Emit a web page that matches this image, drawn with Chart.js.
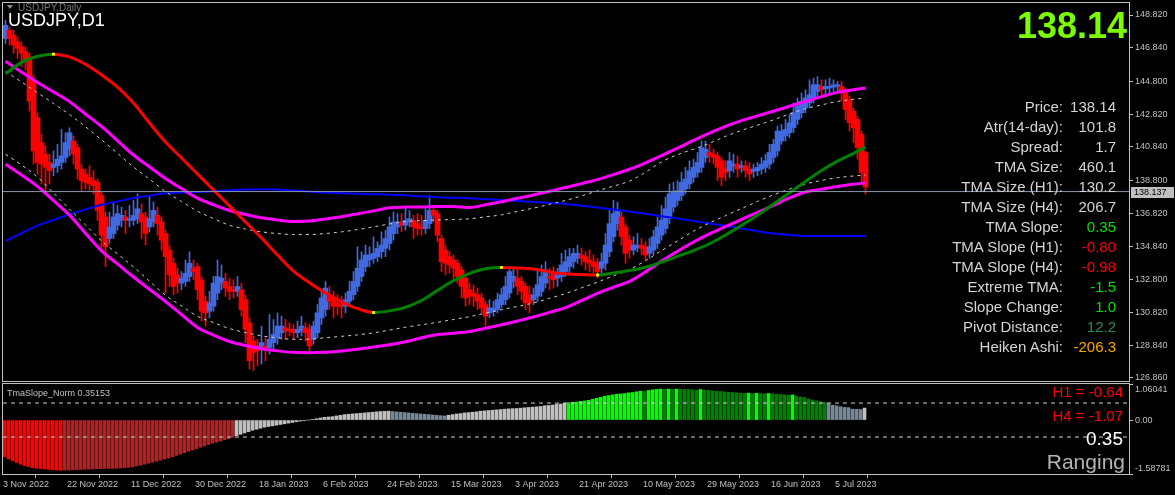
<!DOCTYPE html>
<html>
<head>
<meta charset="utf-8">
<script src="https://cdn.jsdelivr.net/npm/chart.js@4/dist/chart.umd.min.js"></script>
<style>
html,body{margin:0;padding:0;background:#000;width:1175px;height:495px;overflow:hidden;}
canvas{position:absolute;left:0;}
#main{top:0;}
#sub{top:382px;}
.t{position:absolute;font-family:"Liberation Sans",Arial,sans-serif;line-height:1;white-space:nowrap;}
</style>
</head>
<body>
<canvas id="main" width="1175" height="382"></canvas>
<canvas id="sub" width="1175" height="113"></canvas>
<div id="texts"></div>
<script>
// ---------------- DATA ----------------
const symbolTitle = 'USDJPY,D1';
const indicatorTitle = 'USDJPY,Daily';
const bigPrice = '138.14';
const currentPrice = 138.137;

const dateTickIdx = [0,16,32,48,64,80,96,112,128,144,160,176,192,208];
const dateLabels = ['3 Nov 2022','22 Nov 2022','11 Dec 2022','30 Dec 2022','18 Jan 2023','6 Feb 2023','24 Feb 2023','15 Mar 2023','3 Apr 2023','21 Apr 2023','10 May 2023','29 May 2023','16 Jun 2023','5 Jul 2023'];

const priceTicks = [148.820,146.840,144.800,142.820,140.840,138.800,136.820,134.840,132.800,130.820,128.840,126.860];
const slopeTicks = [1.06041,0.5,0,-0.5,-1.58781];
const slopeTickLabels = ['1.06041','0.5','0.00','-0.5','-1.58781'];
const slopeLevels = [0.5,-0.5];

// Heiken Ashi style daily bars (one per bar index)
const opens = [
147.4,147.9,147.6,147.2,146.9,146.6,146.3,144.9,142.6,141.1,
140.4,139.9,139.6,139.7,139.9,140.2,140.7,141.2,140.8,139.5,
139.2,139.0,138.8,138.7,137.9,136.6,135.3,135.6,136.1,136.4,
136.6,136.4,136.4,136.5,136.8,136.6,136.0,136.3,136.7,136.3,
135.6,134.6,133.8,133.1,132.6,132.7,133.0,133.5,133.6,132.8,
131.5,130.9,131.2,132.0,132.6,132.7,132.4,132.2,132.1,132.2,
131.6,130.2,129.1,128.8,128.6,128.8,128.7,129.0,129.3,129.6,
129.9,129.8,129.8,129.6,129.7,129.9,129.8,129.2,129.6,130.5,
131.0,131.9,131.7,131.4,131.3,131.2,131.5,131.9,132.4,133.0,
133.6,134.0,134.1,134.2,134.5,134.7,135.0,135.6,136.0,136.3,
136.1,136.3,136.4,136.2,136.0,135.9,136.2,137.0,136.8,135.3,
134.6,134.2,134.0,133.8,133.4,132.9,132.2,132.0,131.9,131.7,
131.3,130.8,130.9,131.0,131.3,131.6,132.0,132.7,132.9,132.7,
132.4,131.9,131.6,131.8,132.1,132.6,133.0,133.2,132.9,133.0,
133.3,133.6,133.9,134.1,134.3,134.2,134.0,133.9,133.8,133.5,
133.8,134.5,135.4,136.2,136.6,136.0,135.2,134.6,134.75,134.9,
134.8,134.4,134.6,135.0,135.5,135.9,136.5,137.2,137.6,137.9,
138.3,138.6,139.0,139.3,139.6,140.2,140.5,140.4,140.3,140.0,
139.5,139.4,139.7,139.8,139.6,139.7,139.5,139.35,139.4,139.5,
139.6,139.8,140.2,140.6,141.2,141.5,141.7,142.0,142.5,142.9,
143.2,143.5,143.8,144.2,144.5,144.35,144.4,144.45,144.5,144.5,
144.3,143.7,143.0,142.5,141.6,140.5];
const closes = [
148.2,147.4,147.0,146.8,146.5,146.1,143.6,140.6,139.9,139.8,
139.6,139.4,139.8,140.1,140.3,141.1,141.7,140.4,139.5,138.8,
138.7,138.6,138.5,137.0,135.5,134.8,136.0,136.6,136.8,136.7,
136.4,136.5,136.7,137.1,136.3,135.6,136.5,137.0,136.2,135.2,
134.2,133.1,132.4,132.6,132.9,133.2,133.8,133.3,132.2,130.9,
130.8,131.4,132.6,133.0,132.9,132.3,132.1,132.1,132.4,131.0,
129.8,127.9,128.4,128.5,129.0,128.6,129.2,129.5,130.0,130.0,
129.7,129.7,129.6,129.8,130.0,129.6,128.8,130.0,130.8,131.7,
132.3,131.5,131.2,131.2,131.2,131.6,132.1,132.7,133.5,134.0,
134.3,134.3,134.4,134.7,134.9,135.3,136.0,136.3,136.3,136.1,
136.4,136.5,136.0,135.9,135.9,136.4,137.0,136.7,135.5,133.9,
133.8,133.7,133.5,133.0,132.4,131.7,131.8,131.8,131.5,131.1,
130.6,131.1,131.1,131.6,131.9,132.4,133.3,133.0,132.4,132.1,
131.4,131.4,131.9,132.5,133.0,133.4,132.9,132.8,133.1,133.7,
133.9,134.2,134.4,134.4,134.1,133.9,133.8,133.6,133.3,133.9,
134.9,136.2,136.8,137.0,135.4,134.4,134.6,134.9,134.9,134.7,
134.3,134.8,135.4,136.0,136.4,137.1,138.0,138.1,138.2,138.7,
138.9,139.4,139.6,139.9,140.8,140.7,140.3,140.2,139.6,139.0,
139.3,140.0,139.8,139.5,139.7,139.4,139.2,139.5,139.6,139.8,
140.0,140.5,141.0,141.8,141.8,141.9,142.3,142.9,143.3,143.6,
143.8,144.0,144.6,144.6,144.3,144.5,144.5,144.6,144.6,144.2,
143.1,142.3,142.0,140.8,139.3,138.4];
const highs = [
148.5,148.1,147.9,147.5,147.2,146.9,146.5,145.2,142.9,141.6,
140.9,140.4,140.6,141.0,141.9,141.7,142.0,141.5,141.0,139.8,
139.5,139.7,139.4,138.9,138.1,136.9,136.9,137.5,137.3,137.2,
137.0,137.3,137.6,138.0,137.4,136.9,137.9,137.5,137.2,136.6,
135.8,134.9,134.1,133.5,133.3,134.0,134.5,134.0,133.8,133.0,
131.8,132.1,133.0,134.0,133.7,133.2,132.9,132.8,133.0,132.6,
131.9,130.5,129.4,129.2,130.0,129.3,130.7,130.4,130.8,130.6,
130.4,130.2,130.1,130.3,130.6,130.2,130.1,130.3,131.3,132.2,
132.7,132.4,132.1,131.9,131.8,132.0,132.7,133.3,134.8,134.5,
134.9,134.8,135.4,135.1,135.7,135.8,136.6,136.9,136.8,136.8,
137.2,137.0,136.7,136.8,136.7,137.1,137.9,137.3,137.0,135.5,
134.9,134.5,134.3,134.0,133.6,133.1,132.6,132.5,132.3,132.0,
131.5,131.6,131.5,132.0,132.3,133.0,133.6,133.5,133.5,133.0,
132.6,132.4,132.3,133.4,133.7,133.9,133.5,133.6,133.5,134.4,
134.6,134.7,134.7,134.9,134.7,134.5,134.6,134.3,134.1,134.4,
135.6,137.0,137.6,137.5,136.9,136.2,135.5,135.4,135.6,135.3,
135.1,135.3,135.8,136.6,137.3,137.8,138.6,138.7,138.8,139.3,
139.6,140.0,140.1,140.5,141.2,141.2,141.0,140.7,140.5,140.2,
140.0,140.5,140.4,140.3,140.0,140.0,139.9,139.8,139.9,140.2,
140.4,141.0,141.3,142.1,142.2,142.5,142.8,143.5,143.8,144.1,
144.3,144.9,145.0,145.1,144.9,144.9,145.0,144.9,144.8,144.8,
144.4,143.9,143.2,142.7,141.8,140.6];
const lows = [
147.1,147.0,146.5,146.2,145.7,145.5,143.0,139.8,139.2,138.6,
138.0,138.6,139.1,139.3,139.5,139.9,140.3,139.8,138.9,138.2,
138.3,138.2,138.0,136.4,134.6,133.6,135.0,135.3,135.8,136.0,
135.6,136.0,136.1,136.2,135.3,134.9,135.7,136.0,135.5,134.6,
132.0,132.4,131.9,132.0,132.2,132.4,132.7,132.8,131.6,130.3,
130.0,130.5,130.9,131.6,132.2,131.8,131.6,131.7,131.8,130.6,
129.0,127.4,127.3,127.6,127.7,127.9,128.3,128.6,128.9,129.2,
129.2,129.4,129.2,129.3,129.4,129.1,128.5,128.9,129.3,130.1,
130.6,131.0,130.5,130.7,130.5,130.8,131.2,131.6,132.1,132.7,
133.3,133.6,133.8,133.9,134.1,134.2,134.6,135.2,135.6,135.7,
135.8,136.0,135.3,135.5,135.5,135.6,135.9,136.3,135.1,133.3,
133.1,133.2,132.9,132.6,131.7,131.2,131.3,131.2,131.0,130.8,
130.0,130.5,130.6,130.8,131.1,131.3,131.7,132.3,131.9,131.6,
131.0,130.8,131.3,131.5,131.8,132.3,132.2,132.3,132.4,132.7,
133.0,133.2,133.5,133.8,133.7,133.4,133.3,133.2,132.9,133.2,
133.4,134.2,135.1,135.8,134.9,133.8,134.1,134.3,134.5,134.3,
134.0,134.1,134.3,134.7,135.2,135.6,136.2,136.9,137.3,137.6,
138.0,138.3,138.7,139.0,139.3,139.9,139.9,139.8,138.8,138.5,
138.8,139.0,139.3,139.0,139.3,139.0,138.8,139.0,139.1,139.2,
139.3,139.5,139.9,140.3,141.0,141.2,141.4,141.7,142.2,142.6,
142.9,143.2,143.5,143.9,144.0,144.0,144.1,144.2,144.2,143.6,
142.5,141.8,141.1,140.1,138.6,138.0];

// indicator lines, sampled at these bar indices
const lineIdx = [0,4,8,12,16,20,24,28,32,36,40,44,48,52,56,60,64,68,72,76,80,84,88,92,96,100,104,108,112,116,120,124,128,132,136,140,144,148,152,156,160,164,168,172,176,180,184,188,192,196,200,204,208,212,215];
const tmaMid = [145.27,145.95,146.32,146.45,146.29,145.84,145.20,144.46,143.50,142.29,141.14,140.17,139.20,138.23,137.27,136.30,135.33,134.30,133.33,132.62,132.00,131.47,131.06,130.82,130.92,131.14,131.55,132.16,132.75,133.19,133.47,133.55,133.52,133.45,133.28,133.16,133.12,133.09,133.21,133.36,133.56,133.87,134.22,134.57,134.98,135.51,136.10,136.71,137.39,138.06,138.75,139.41,139.98,140.45,140.83];
const tmaUpper = [146.02,145.37,144.74,144.17,143.58,142.83,142.08,141.22,140.35,139.64,138.93,138.32,137.74,137.34,136.99,136.75,136.55,136.42,136.33,136.36,136.48,136.62,136.79,136.97,137.16,137.20,137.21,137.24,137.24,137.17,137.34,137.52,137.73,137.93,138.16,138.38,138.62,138.86,139.16,139.49,139.88,140.31,140.76,141.23,141.67,142.08,142.43,142.72,143.00,143.30,143.59,143.88,144.14,144.30,144.40];
const tmaLower = [139.79,139.14,138.45,137.59,136.71,135.62,134.55,133.76,132.97,132.23,131.49,130.70,129.92,129.46,129.07,128.83,128.63,128.50,128.41,128.39,128.42,128.49,128.60,128.73,128.87,129.05,129.29,129.49,129.57,129.67,129.87,130.08,130.31,130.55,130.83,131.12,131.54,131.98,132.35,132.70,133.28,133.93,134.53,135.09,135.58,136.02,136.45,136.88,137.31,137.75,138.11,138.28,138.45,138.58,138.66];
const tmaUpperInner = [145.41,144.77,144.12,143.47,142.80,142.06,141.27,140.45,139.62,138.89,138.14,137.54,136.95,136.51,136.10,135.87,135.70,135.60,135.54,135.54,135.60,135.70,135.84,136.00,136.18,136.32,136.38,136.42,136.45,136.49,136.61,136.73,136.94,137.14,137.37,137.60,137.88,138.18,138.47,138.77,139.31,139.93,140.37,140.70,141.06,141.48,141.84,142.15,142.48,142.83,143.15,143.38,143.59,143.72,143.80];
const tmaLowerInner = [140.39,139.75,139.02,138.05,137.08,136.12,135.16,134.37,133.58,132.72,131.87,131.22,130.60,130.21,129.85,129.61,129.41,129.29,129.20,129.21,129.30,129.38,129.47,129.59,129.76,129.93,130.08,130.23,130.40,130.57,130.78,130.99,131.19,131.40,131.68,131.97,132.31,132.66,133.04,133.42,133.96,134.56,135.15,135.74,136.24,136.68,137.11,137.54,137.94,138.29,138.60,138.81,138.98,139.08,139.14];
const maBlue = [135.15,135.63,136.08,136.42,136.76,137.05,137.34,137.54,137.75,137.89,138.03,138.08,138.11,138.16,138.22,138.26,138.28,138.26,138.20,138.14,138.08,138.04,138.01,137.98,137.95,137.91,137.85,137.80,137.77,137.74,137.68,137.63,137.57,137.51,137.45,137.39,137.28,137.17,137.05,136.93,136.79,136.65,136.51,136.36,136.21,136.07,135.91,135.74,135.60,135.51,135.45,135.45,135.45,135.45,135.45];

// TmaSlope_Norm histogram, one per bar
const slopeNorm = [
-1.08,-1.14,-1.20,-1.25,-1.30,-1.34,-1.37,-1.40,-1.42,-1.43,
-1.44,-1.45,-1.46,-1.47,-1.48,-1.475,-1.47,-1.465,-1.46,-1.455,
-1.45,-1.445,-1.44,-1.435,-1.43,-1.428,-1.425,-1.422,-1.42,-1.41,
-1.40,-1.39,-1.38,-1.35,-1.33,-1.30,-1.27,-1.24,-1.21,-1.18,
-1.15,-1.12,-1.08,-1.04,-1.00,-0.96,-0.92,-0.88,-0.84,-0.80,
-0.76,-0.72,-0.68,-0.65,-0.62,-0.58,-0.55,-0.51,-0.46,-0.42,
-0.38,-0.34,-0.30,-0.27,-0.24,-0.21,-0.19,-0.17,-0.15,-0.13,
-0.11,-0.09,-0.07,-0.05,-0.03,-0.02,0.00,0.02,0.04,0.06,
0.08,0.09,0.10,0.12,0.14,0.16,0.17,0.18,0.19,0.20,
0.21,0.22,0.23,0.24,0.25,0.255,0.26,0.25,0.24,0.23,
0.22,0.21,0.20,0.19,0.18,0.17,0.16,0.15,0.14,0.13,
0.12,0.14,0.16,0.18,0.19,0.21,0.22,0.23,0.24,0.26,
0.27,0.28,0.29,0.30,0.31,0.32,0.33,0.335,0.34,0.35,
0.36,0.37,0.38,0.39,0.40,0.42,0.43,0.44,0.46,0.47,
0.49,0.51,0.52,0.53,0.55,0.56,0.58,0.61,0.64,0.67,
0.70,0.72,0.74,0.76,0.77,0.78,0.80,0.81,0.83,0.85,
0.84,0.87,0.89,0.90,0.91,0.905,0.91,0.905,0.91,0.905,
0.90,0.90,0.89,0.88,0.90,0.88,0.87,0.86,0.85,0.84,
0.83,0.82,0.81,0.80,0.79,0.78,0.79,0.78,0.785,0.78,
0.775,0.78,0.77,0.76,0.75,0.74,0.73,0.74,0.70,0.68,
0.66,0.62,0.59,0.56,0.54,0.52,0.49,0.44,0.42,0.39,
0.37,0.365,0.32,0.315,0.31,0.35153];

const infoLabels = ['Price:','Atr(14-day):','Spread:','TMA Size:','TMA Size (H1):','TMA Size (H4):','TMA Slope:','TMA Slope (H1):','TMA Slope (H4):','Extreme TMA:','Slope Change:','Pivot Distance:','Heiken Ashi:'];
const infoValues = ['138.14','101.8','1.7','460.1','130.2','206.7','0.35','-0.80','-0.98','-1.5','1.0','12.2','-206.3'];
const infoColors = ['#d4d4d4','#d4d4d4','#d4d4d4','#d4d4d4','#d4d4d4','#d4d4d4','#00e000','#ff0000','#ff0000','#00e000','#00e000','#2e8b57','#ffa500'];

const slopeTitle = 'TmaSlope_Norm 0.35153';
const h1Text = 'H1 = -0.64';
const h4Text = 'H4 = -1.07';
const slopeNow = '0.35';
const stateText = 'Ranging';

// ---------------- CHARTS ----------------
const FONT = '"Liberation Sans", Arial, sans-serif';
Chart.defaults.font.family = FONT;
Chart.defaults.color = '#c0c0c0';
const AXIS = '#c0c0c0';

const framePlugin = {
  id: 'frame',
  afterDraw(chart) {
    const {ctx, chartArea: a} = chart;
    ctx.save();
    ctx.strokeStyle = AXIS;
    ctx.lineWidth = 1;
    ctx.strokeRect(a.left - 0.5, a.top - 0.5, a.right - a.left + 1, a.bottom - a.top + 1);
    ctx.restore();
  }
};

const priceTagPlugin = {
  id: 'priceTag',
  afterDraw(chart) {
    const {ctx, chartArea: a} = chart;
    const y = Math.round(chart.scales.y.getPixelForValue(currentPrice));
    ctx.save();
    ctx.fillStyle = '#c0c0c0';
    ctx.fillRect(a.right + 2, y - 5, 43, 11);
    ctx.fillStyle = '#000';
    ctx.font = '9px ' + FONT;
    ctx.textBaseline = 'middle';
    ctx.fillText(currentPrice.toFixed(3), a.right + 5, y + 0.5);
    ctx.restore();
  }
};

const noPad = s => { s.paddingTop = 0; s.paddingBottom = 0; s.paddingLeft = 0; s.paddingRight = 0; };

const pts = arr => arr.map((v, k) => ({x: lineIdx[k], y: v}));
const barIdx = opens.map((_, i) => i);
const candleCol = barIdx.map(i => closes[i] >= opens[i] ? '#4169e1' : '#ff0000');
const isTurn = k => k > 0 && k < tmaMid.length - 1 &&
  (tmaMid[k] - tmaMid[k - 1]) * (tmaMid[k + 1] - tmaMid[k]) < 0;

const X_MIN = -0.625, X_MAX = 280.875;
const lineBase = {type: 'line', pointRadius: 0, cubicInterpolationMode: 'monotone', fill: false};

new Chart(document.getElementById('main'), {
  type: 'bar',
  data: {
    datasets: [
      {...lineBase, data: [{x: X_MIN, y: currentPrice}, {x: X_MAX, y: currentPrice}], borderColor: '#8797ab', borderWidth: 1, order: 0},
      {...lineBase, data: pts(tmaMid), borderWidth: 3, borderColor: '#ff0000',
        segment: {borderColor: c => c.p1.parsed.y >= c.p0.parsed.y ? '#008000' : '#ff0000'},
        pointRadius: c => isTurn(c.dataIndex) ? 2 : 0, pointStyle: 'rect',
        pointBackgroundColor: '#ffff00', pointBorderWidth: 0, order: 1},
      {...lineBase, data: pts(tmaUpper), borderColor: '#ff00ff', borderWidth: 3, order: 2},
      {...lineBase, data: pts(tmaLower), borderColor: '#ff00ff', borderWidth: 3, order: 2},
      {...lineBase, data: pts(tmaUpperInner), borderColor: '#cfcfcf', borderWidth: 1, borderDash: [3, 4], order: 3},
      {...lineBase, data: pts(tmaLowerInner), borderColor: '#cfcfcf', borderWidth: 1, borderDash: [3, 4], order: 3},
      {...lineBase, data: pts(maBlue), borderColor: '#0000ff', borderWidth: 2, order: 3},
      {type: 'bar', data: barIdx.map(i => ({x: i, y: [lows[i], highs[i]]})), backgroundColor: candleCol,
        barThickness: 1, grouped: false, borderWidth: 0, order: 6},
      {type: 'bar', data: barIdx.map(i => ({x: i, y: [opens[i], closes[i]]})), backgroundColor: candleCol,
        barThickness: 5, grouped: false, borderWidth: 0, minBarLength: 1, order: 5}
    ]
  },
  options: {
    responsive: false, animation: false, devicePixelRatio: 1,
    layout: {padding: {left: 3, top: 3, right: 0, bottom: 1}},
    plugins: {legend: {display: false}, tooltip: {enabled: false}},
    scales: {
      x: {type: 'linear', min: X_MIN, max: X_MAX, offset: false, display: false},
      y: {
        type: 'linear', position: 'right', min: 126.678, max: 149.546,
        afterBuildTicks: s => { s.ticks = priceTicks.map(v => ({value: v})); },
        afterFit: s => { s.width = 46; noPad(s); },
        grid: {drawOnChartArea: false, color: AXIS, tickLength: 4},
        border: {color: AXIS},
        ticks: {color: '#c0c0c0', font: {size: 9}, padding: 2, callback: v => Number(v).toFixed(3)}
      }
    }
  },
  plugins: [framePlugin, priceTagPlugin]
});

const slopeCol = slopeNorm.map((v, i) => {
  const up = i > 0 && v > slopeNorm[i - 1];
  if (v > 0.5) return up ? '#00ff00' : '#008000';
  if (v < -0.5) return up ? '#b22222' : '#ff0000';
  return up ? '#c0c0c0' : '#778899';
});

const SUB_MIN = -0.375, SUB_MAX = 281.125;
new Chart(document.getElementById('sub'), {
  type: 'bar',
  data: {
    datasets: [
      ...slopeLevels.map(l => ({...lineBase, data: [{x: SUB_MIN, y: l}, {x: SUB_MAX, y: l}], borderColor: '#d0d0d0', borderWidth: 1, borderDash: [4, 4], order: 0})),
      {type: 'bar', data: slopeNorm.map((v, i) => ({x: i, y: v})), backgroundColor: slopeCol,
        barThickness: 3, grouped: false, borderWidth: 0, order: 1}
    ]
  },
  options: {
    responsive: false, animation: false, devicePixelRatio: 1,
    layout: {padding: {left: 3, top: 2, right: 0, bottom: 0}},
    plugins: {legend: {display: false}, tooltip: {enabled: false}},
    scales: {
      x: {
        type: 'linear', min: SUB_MIN, max: SUB_MAX, offset: false,
        afterBuildTicks: s => { s.ticks = dateTickIdx.map(v => ({value: v - 0.375})); },
        afterFit: s => { s.height = 21; noPad(s); },
        grid: {drawOnChartArea: false, color: AXIS, tickLength: 4},
        border: {color: AXIS},
        ticks: {autoSkip: false, maxRotation: 0, align: 'start', padding: 1, color: '#c0c0c0', font: {size: 9},
          callback: (v, i) => dateLabels[i]}
      },
      y: {
        type: 'linear', position: 'right', min: -1.58781, max: 1.06041,
        afterBuildTicks: s => { s.ticks = slopeTicks.map(v => ({value: v})); },
        afterFit: s => { s.width = 46; noPad(s); },
        grid: {drawOnChartArea: false, color: AXIS, tickLength: 4},
        border: {color: AXIS},
        ticks: {color: '#c0c0c0', font: {size: 9}, padding: 2,
          callback: (v, i) => i === 0 ? ['', slopeTickLabels[i]] : (i === slopeTickLabels.length - 1 ? [slopeTickLabels[i], ''] : slopeTickLabels[i])}
      }
    }
  },
  plugins: [framePlugin]
});

// ---------------- TEXT OVERLAYS ----------------
const box = document.getElementById('texts');
function addText(txt, o) {
  const d = document.createElement('div');
  d.className = 't';
  d.textContent = txt;
  d.style.fontSize = o.size + 'px';
  d.style.color = o.color;
  d.style.top = o.top + 'px';
  if (o.left !== undefined) d.style.left = o.left + 'px';
  if (o.right !== undefined) d.style.right = o.right + 'px';
  if (o.bold) d.style.fontWeight = 'bold';
  box.appendChild(d);
  return d;
}
// small indicator caption (partly hidden behind title)
const tri = document.createElement('div');
tri.style.cssText = 'position:absolute;left:7px;top:5px;width:0;height:0;border-left:3px solid transparent;border-right:3px solid transparent;border-top:4px solid #909090;';
box.appendChild(tri);
addText(indicatorTitle, {size: 10, color: '#7a7a7a', top: 3, left: 18});
addText(symbolTitle, {size: 18, color: '#ffffff', top: 11, left: 8});
addText(bigPrice, {size: 36, color: '#7cfc00', top: 8, right: 48, bold: true});

infoLabels.forEach((lab, k) => {
  const c = 106 + 20 * k;
  addText(lab, {size: 15, color: '#d4d4d4', top: c - 7.3, right: 112});
  addText(infoValues[k], {size: 15, color: infoColors[k], top: c - 7.3, right: 59});
});

addText(slopeTitle, {size: 9, color: '#c0c0c0', top: 388.6, left: 7});
addText(h1Text, {size: 15, color: '#ff0000', top: 384, right: 52});
addText(h4Text, {size: 15, color: '#ff0000', top: 407.7, right: 52});
addText(slopeNow, {size: 19, color: '#ffffff', top: 429, right: 52});
addText(stateText, {size: 21, color: '#b4b4b4', top: 450.7, right: 50});
</script>
</body>
</html>
